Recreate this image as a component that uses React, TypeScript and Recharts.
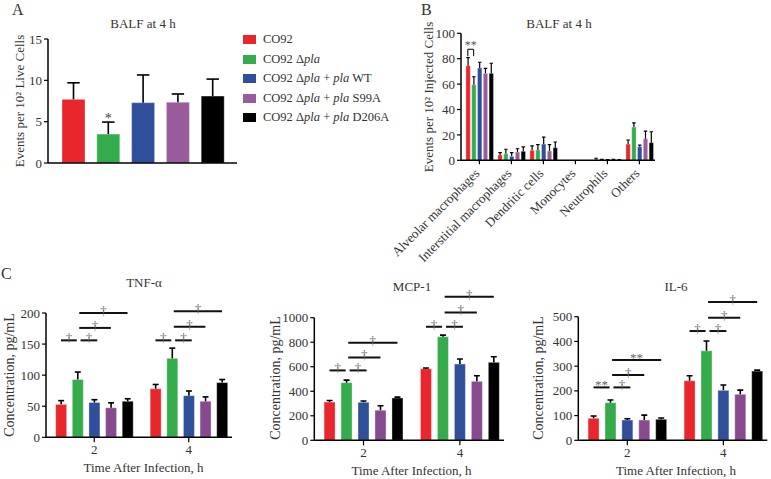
import React from "react";
import { Bar, BarChart, Cell, ReferenceLine, XAxis, YAxis } from "recharts";

const strains = ["CO92", "CO92 Δpla", "CO92 Δpla + pla WT", "CO92 Δpla + pla S99A", "CO92 Δpla + pla D206A"];
const colorsA = ["#E8262B", "#35AC4C", "#2F4F9B", "#9A5B9C", "#000000"];
const colorsC = ["#E8262B", "#35AC4C", "#2F4F9B", "#874A8E", "#000000"];

// Panel A: BALF at 4 h, events per 10^2 live cells
const balfMeans = [7.7, 3.5, 7.3, 7.35, 8.1];
const balfSem = [2.0, 1.45, 3.35, 1.0, 2.05];
const balfMarks = ["", "*", "", "", ""];
const balfTicks = [0, 5, 10, 15];

// Panel B: cell types, rows = strains
const cellTypes = ["Alveolar macrophages", "Interstitial macrophages", "Dendritic cells", "Monocytes", "Neutrophils", "Others"];
const cellMeans = [
  [74.5, 4.2, 7.9, 0, 0.4, 12.8],
  [59.5, 5.2, 8.1, 0, 0.2, 26.2],
  [72.7, 3.1, 12.8, 0, 0.1, 10.7],
  [68.5, 6.5, 7.3, 0, 0.2, 17.0],
  [68.5, 7.1, 9.9, 0, 0.2, 13.9],
];
const cellSem = [
  [6.3, 1.8, 3.4, 0, 1.2, 3.2],
  [6.3, 3.5, 4.2, 0, 0.6, 3.2],
  [4.5, 2.9, 5.5, 0, 0.5, 1.3],
  [3.9, 2.6, 5.0, 0, 0.5, 6.0],
  [7.9, 3.4, 4.5, 0, 0.4, 8.6],
];
const cellTicks = [0, 20, 40, 60, 80, 100];

// Panel C: cytokines, rows = strains, columns = hours
const hours = ["2", "4"];
const tnfMeans = [[53, 78], [93, 127], [56, 67], [47.5, 58], [58, 88]];
const tnfSem = [[6, 7], [12, 16.5], [4.5, 7.5], [8, 7], [4, 5]];
const tnfTicks = [0, 50, 100, 150, 200];
const mcpMeans = [[312, 584], [470, 845], [310, 622], [245, 481], [345, 636]];
const mcpSem = [[13, 6], [21, 13], [10, 41], [37, 46], [7, 45]];
const mcpTicks = [0, 200, 400, 600, 800, 1000];
const il6Means = [[89, 241], [152, 362], [82, 202], [82, 186], [85, 280]];
const il6Sem = [[9, 20], [11, 40], [5, 22], [20, 17], [5, 4]];
const il6Ticks = [0, 100, 200, 300, 400, 500];

// significance: [hour group, from strain, to strain, y value, symbol]
type Sig = [number, number, number, number, string];
const tnfSig: Sig[] = [
  [0, 0, 1, 156, "†"], [0, 1, 2, 156, "†"], [0, 1, 3, 176, "†"], [0, 1, 4, 200, "†"],
  [1, 0, 1, 156, "†"], [1, 1, 2, 156, "†"], [1, 1, 3, 178, "†"], [1, 1, 4, 203, "†"],
];
const mcpSig: Sig[] = [
  [0, 0, 1, 570, "†"], [0, 1, 2, 570, "†"], [0, 1, 3, 676, "†"], [0, 1, 4, 795, "†"],
  [1, 0, 1, 926, "†"], [1, 1, 2, 926, "†"], [1, 1, 3, 1043, "†"], [1, 1, 4, 1170, "†"],
];
const il6Sig: Sig[] = [
  [0, 0, 1, 214, "**"], [0, 1, 2, 214, "†"], [0, 1, 3, 264, "†"], [0, 1, 4, 325, "**"],
  [1, 0, 1, 442, "†"], [1, 1, 2, 442, "†"], [1, 1, 3, 496, "†"], [1, 1, 4, 559, "†"],
];

const FONT = "'Liberation Serif', 'Times New Roman', serif";
const TEXT = "#333";
const tickStyle = { fontSize: 13, fill: TEXT, fontFamily: FONT };
const axisLine = { stroke: "#000", strokeWidth: 1.5 };
const tickLine = { stroke: "#000", strokeWidth: 1.2 };

function makeShape(lineW: number, capRatio: number) {
  return (props: any) => {
    const { x, y, width, height, fill, payload } = props;
    const cx = x + width / 2;
    const k = payload.v > 0 ? height / payload.v : 0;
    const top = y - payload.e * k;
    const cap = width * capRatio;
    return (
      <g>
        <rect x={x} y={y} width={width} height={Math.max(height, 0)} fill={fill} stroke="rgba(255,255,255,0.35)" strokeWidth={1} />
        {payload.e > 0 && k > 0 ? (
          <g stroke="#000" strokeWidth={lineW}>
            <line x1={cx} x2={cx} y1={y} y2={top} />
            <line x1={cx - cap} x2={cx + cap} y1={top} y2={top} />
          </g>
        ) : null}
        {payload.mark ? (
          <text x={cx} y={top + 1} textAnchor="middle" fontSize={14} fill="#444" fontFamily={FONT}>
            {payload.mark}
          </text>
        ) : null}
      </g>
    );
  };
}

function Txt({ x, y, size = 13, rotate = false, children }: any) {
  return (
    <div
      style={{
        position: "absolute",
        left: x,
        top: y,
        transform: `translate(-50%, -50%)${rotate ? " rotate(-90deg)" : ""}`,
        fontSize: size,
        lineHeight: 1,
        whiteSpace: "nowrap",
        color: TEXT,
      }}
    >
      {children}
    </div>
  );
}

function StrainName({ name }: { name: string }) {
  return (
    <>
      {name.split(/(pla)/).map((part, i) => (part === "pla" ? <i key={i}>{part}</i> : <span key={i}>{part}</span>))}
    </>
  );
}

function PanelA() {
  const rows = strains.map((name, i) => ({ name, v: balfMeans[i], e: balfSem[i], mark: balfMarks[i] }));
  return (
    <div style={{ position: "absolute", left: 0, top: 0 }}>
      <BarChart width={250} height={200} data={rows} margin={{ top: 39, right: 13, bottom: 7, left: 0 }}>
        <XAxis dataKey="name" type="category" tick={false} tickLine={false} axisLine={axisLine} height={30} padding={{ left: 8, right: 7 }} />
        <YAxis type="number" domain={[0, 15]} ticks={balfTicks} width={48} tick={tickStyle} tickSize={4} axisLine={axisLine} tickLine={tickLine} />
        <Bar dataKey="v" barSize={23} isAnimationActive={false} shape={makeShape(1.6, 0.27)}>
          {rows.map((_, i) => (
            <Cell key={i} fill={colorsA[i]} />
          ))}
        </Bar>
      </BarChart>
    </div>
  );
}

const GB = 5.52;

function SlantTick(props: any) {
  const { x, y, payload } = props;
  const idx = Math.round((payload.value - 2) / GB);
  return (
    <g transform={`translate(${x - 2},${y + 5}) rotate(-45)`}>
      <text x={0} y={0} dy={4} textAnchor="end" fontSize={13} fill={TEXT} fontFamily={FONT}>
        {cellTypes[idx]}
      </text>
    </g>
  );
}

function PanelB() {
  const rows: any[] = [];
  cellTypes.forEach((_, g) => {
    strains.forEach((__, s) => {
      rows.push({ x: g * GB + s, v: cellMeans[s][g], e: cellSem[s][g], s });
    });
  });
  const ticks = cellTypes.map((_, g) => g * GB + 2);
  return (
    <div style={{ position: "absolute", left: 330, top: 0 }}>
      <BarChart width={340} height={280} data={rows} margin={{ top: 33.3, right: 15, bottom: 10, left: 91 }}>
        <XAxis
          dataKey="x"
          type="number"
          domain={[-1.17, 32.29]}
          allowDataOverflow
          ticks={ticks}
          interval={0}
          tick={<SlantTick />}
          tickSize={4}
          height={109.7}
          axisLine={axisLine}
          tickLine={tickLine}
        />
        <YAxis type="number" domain={[0, 100]} ticks={cellTicks} width={40} tick={tickStyle} tickSize={4} axisLine={axisLine} tickLine={tickLine} />
        <Bar dataKey="v" barSize={4.4} isAnimationActive={false} shape={makeShape(1.2, 0.4)}>
          {rows.map((r, i) => (
            <Cell key={i} fill={colorsA[r.s]} />
          ))}
        </Bar>
        <ReferenceLine
          segment={[{ x: 0, y: 87.4 }, { x: 1, y: 87.4 }]}
          stroke="#222"
          strokeWidth={1.2}
          ifOverflow="visible"
          label={{ value: "**", position: "top", offset: 0, fontSize: 12, fill: "#555" }}
        />
        <ReferenceLine segment={[{ x: 0, y: 87.4 }, { x: 0, y: 82 }]} stroke="#222" strokeWidth={1.2} ifOverflow="visible" />
        <ReferenceLine segment={[{ x: 1, y: 87.4 }, { x: 1, y: 82 }]} stroke="#222" strokeWidth={1.2} ifOverflow="visible" />
      </BarChart>
    </div>
  );
}

const GC = 5.68;

function CytokineChart({ means, sem, ticks, sig, left, width, axisX, axisEnd, y0, yTop }: any) {
  const top = 260;
  const height = 219;
  const rows: any[] = [];
  hours.forEach((_, g) => {
    strains.forEach((__, s) => {
      rows.push({ x: g * GC + s, v: means[s][g], e: sem[s][g], s });
    });
  });
  const xTicks = hours.map((_, g) => g * GC + 2);
  const max = ticks[ticks.length - 1];
  return (
    <div style={{ position: "absolute", left, top }}>
      <BarChart
        width={width}
        height={height}
        data={rows}
        margin={{ top: yTop - top, right: left + width - axisEnd, bottom: top + height - y0 - 30, left: 0 }}
      >
        <XAxis
          dataKey="x"
          type="number"
          domain={[-0.9, GC + 4.6]}
          allowDataOverflow
          ticks={xTicks}
          interval={0}
          tickFormatter={(v: number) => hours[Math.round((v - 2) / GC)]}
          tick={tickStyle}
          tickSize={5}
          height={30}
          axisLine={axisLine}
          tickLine={tickLine}
        />
        <YAxis type="number" domain={[0, max]} ticks={ticks} width={axisX - left} tick={tickStyle} tickSize={4} axisLine={axisLine} tickLine={tickLine} />
        <Bar dataKey="v" barSize={11} isAnimationActive={false} shape={makeShape(1.6, 0.27)}>
          {rows.map((r, i) => (
            <Cell key={i} fill={colorsC[r.s]} />
          ))}
        </Bar>
        {sig.map(([g, a, b, yv, sym]: Sig, i: number) => {
          const short = b - a === 1;
          const shift = a === 1 && short ? 0.18 : a === 1 ? 0.1 : 0;
          const x1 = g * GC + a + shift;
          const x2 = g * GC + b + (short && a === 1 ? shift : short ? -0.05 : 0);
          return (
            <ReferenceLine
              key={i}
              segment={[{ x: x1, y: yv }, { x: x2, y: yv }]}
              stroke="#111"
              strokeWidth={2}
              ifOverflow="visible"
              label={{ value: sym, position: "top", offset: -2, fontSize: 13, fill: "#666", fontFamily: FONT }}
            />
          );
        })}
      </BarChart>
    </div>
  );
}

export default function App() {
  return (
    <div
      style={{
        position: "absolute",
        left: 0,
        top: 0,
        width: 771,
        height: 479,
        background: "#fff",
        fontFamily: FONT,
        color: TEXT,
        overflow: "hidden",
      }}
    >
      <PanelA />
      <PanelB />
      <CytokineChart means={tnfMeans} sem={tnfSem} ticks={tnfTicks} sig={tnfSig} left={0} width={250} axisX={46} axisEnd={232} y0={437.3} yTop={313} />
      <CytokineChart means={mcpMeans} sem={mcpSem} ticks={mcpTicks} sig={mcpSig} left={250} width={260} axisX={314.3} axisEnd={504} y0={440.3} yTop={317.7} />
      <CytokineChart means={il6Means} sem={il6Sem} ticks={il6Ticks} sig={il6Sig} left={510} width={261} axisX={578.3} axisEnd={767.3} y0={440.3} yTop={316.7} />

      <div style={{ position: "absolute", left: 12, top: 2, fontSize: 16, lineHeight: 1 }}>A</div>
      <div style={{ position: "absolute", left: 421, top: 2, fontSize: 16, lineHeight: 1 }}>B</div>
      <div style={{ position: "absolute", left: 1, top: 266, fontSize: 16, lineHeight: 1 }}>C</div>

      <Txt x={143} y={23}>BALF at 4 h</Txt>
      <Txt x={559} y={23}>BALF at 4 h</Txt>
      <Txt x={19} y={101} rotate>Events per 10² Live Cells</Txt>
      <Txt x={428} y={97} rotate>Events per 10² Injected Cells</Txt>

      <Txt x={144} y={282}>TNF-α</Txt>
      <Txt x={412} y={286}>MCP-1</Txt>
      <Txt x={676} y={286}>IL-6</Txt>
      <Txt x={10} y={375} size={14} rotate>Concentration, pg/mL</Txt>
      <Txt x={276} y={378} size={14} rotate>Concentration, pg/mL</Txt>
      <Txt x={539} y={378} size={14} rotate>Concentration, pg/mL</Txt>
      <Txt x={143.5} y={467}>Time After Infection, h</Txt>
      <Txt x={411.5} y={470}>Time After Infection, h</Txt>
      <Txt x={676} y={470}>Time After Infection, h</Txt>

      <div style={{ position: "absolute", left: 243, top: 30 }}>
        {strains.map((name, i) => (
          <div key={i} style={{ display: "flex", alignItems: "center", height: 19.5, fontSize: 12.5, whiteSpace: "nowrap" }}>
            <span style={{ width: 13, height: 9, background: colorsA[i], marginRight: 7, display: "inline-block" }} />
            <span>
              <StrainName name={name} />
            </span>
          </div>
        ))}
      </div>
    </div>
  );
}
